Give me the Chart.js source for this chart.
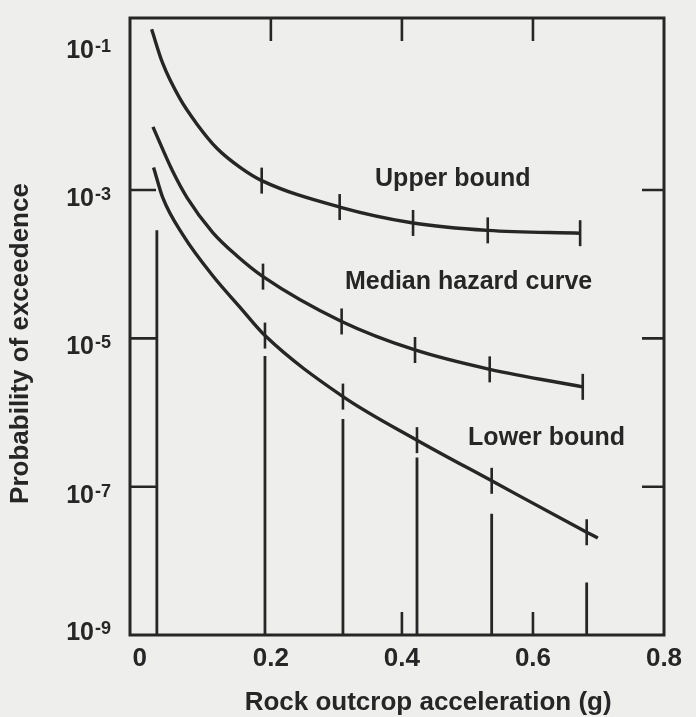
<!DOCTYPE html>
<html>
<head>
<meta charset="utf-8">
<script src="https://cdn.jsdelivr.net/npm/chart.js@4.4.1/dist/chart.umd.min.js"></script>
<style>
  html, body { margin: 0; padding: 0; background: #eeeeec; }
  #wrap { width: 696px; height: 717px; }
</style>
</head>
<body>
<div id="wrap"><canvas id="hazard" width="696" height="717"></canvas></div>
<script>
// axis ticks
const xTicks = [0, 0.2, 0.4, 0.6, 0.8];
const xTickLabels = ['0', '0.2', '0.4', '0.6', '0.8'];
const yTicks = [1e-1, 1e-3, 1e-5, 1e-7, 1e-9];
const yTickBase = '10';
const yTickExp = ['-1', '-3', '-5', '-7', '-9'];
const sideTicks = [1e-3, 1e-5, 1e-7];
const topTicks = [0.2, 0.4, 0.6];
const bottomTicks = [0.4, 0.6];
const xTitle = 'Rock outcrop acceleration (g)';
const yTitle = 'Probability of exceedence';

// upper bound curve (g, probability), 1 = error bar marker
const upperAcc  = [0.018, 0.035, 0.061, 0.087, 0.118, 0.153, 0.186, 0.305, 0.417, 0.531, 0.672];
const upperProb = [0.147, 0.0509, 0.0172, 7.8e-3, 3.63e-3, 2.02e-3, 1.34e-3, 5.9e-4, 3.6e-4, 2.86e-4, 2.62e-4];
const upperBars = [0, 0, 0, 0, 0, 0, 1, 1, 1, 1, 1];

// median hazard curve
const medianAcc  = [0.02, 0.05, 0.072, 0.111, 0.148, 0.188, 0.308, 0.42, 0.534, 0.676];
const medianProb = [7.1e-3, 1.8e-3, 7.9e-4, 2.69e-4, 1.3e-4, 6.8e-5, 1.69e-5, 6.97e-6, 3.82e-6, 2.22e-6];
const medianBars = [0, 0, 0, 0, 0, 1, 1, 1, 1, 1];

// lower bound curve
const lowerAcc  = [0.021, 0.035, 0.066, 0.111, 0.153, 0.191, 0.31, 0.423, 0.537, 0.682, 0.699];
const lowerProb = [2.02e-3, 7.9e-4, 2.47e-4, 7.05e-5, 2.62e-5, 1.09e-5, 1.64e-6, 4.24e-7, 1.2e-7, 2.43e-8, 2.03e-8];
const lowerBars = [0, 0, 0, 0, 0, 1, 1, 1, 1, 1, 0];

// vertical drop lines down to the axis
const dropAcc = [0.026, 0.191, 0.31, 0.423, 0.537, 0.682];
const dropTop = [2.86e-4, 5.8e-6, 8.2e-7, 2.47e-7, 4.3e-8, 5.1e-9];

// curve labels
const notes = ['Upper bound', 'Median hazard curve', 'Lower bound'];
const noteAcc = [0.359, 0.313, 0.501];
const noteProb = [1.15e-3, 4.57e-5, 3.63e-7];

const ink = '#262626';
const fontFam = '"Liberation Sans", "DejaVu Sans", Arial, sans-serif';
const yMin = 1e-9;
const yMax = Math.pow(10, -0.68);

Chart.defaults.font.family = fontFam;
Chart.defaults.font.weight = 'bold';
Chart.defaults.color = ink;

function curve(acc, prob, bars) {
    return {
        data: acc.map((a, i) => ({ x: a, y: prob[i] })),
        borderColor: ink,
        borderWidth: 3.4,
        cubicInterpolationMode: 'monotone',
        pointStyle: 'line',
        rotation: 90,
        pointRadius: bars.map(b => b ? 13 : 0),
        pointBorderWidth: 2.6,
        pointBorderColor: ink,
        fill: false
    };
}

const dropData = [];
dropAcc.forEach((a, i) => {
    dropData.push({ x: a, y: dropTop[i] }, { x: a, y: yMin }, { x: a, y: null });
});

// frame with inward tick marks, y labels with exponents, titles, curve names
const framePlugin = {
    id: 'frame',
    afterDatasetsDraw(chart) {
        const { ctx, chartArea: a, scales: { x, y } } = chart;
        ctx.save();
        ctx.strokeStyle = ink;
        ctx.lineWidth = 3;
        ctx.strokeRect(a.left, a.top, a.right - a.left, a.bottom - a.top);
        ctx.lineWidth = 2.6;
        ctx.beginPath();
        sideTicks.forEach(v => {
            const py = y.getPixelForValue(v);
            ctx.moveTo(a.left, py); ctx.lineTo(a.left + 26, py);
            ctx.moveTo(a.right, py); ctx.lineTo(a.right - 22, py);
        });
        topTicks.forEach(v => {
            const px = x.getPixelForValue(v);
            ctx.moveTo(px, a.top); ctx.lineTo(px, a.top + 23);
        });
        bottomTicks.forEach(v => {
            const px = x.getPixelForValue(v);
            ctx.moveTo(px, a.bottom); ctx.lineTo(px, a.bottom - 23);
        });
        ctx.stroke();

        ctx.fillStyle = ink;
        ctx.textBaseline = 'alphabetic';

        // y tick labels: 10 with raised exponent, hanging just below the tick
        const baseFont = 'bold 25px ' + fontFam;
        const expFont = 'bold 18px ' + fontFam;
        yTicks.forEach((v, i) => {
            const base = Math.min(y.getPixelForValue(v) + 16, a.bottom + 5);
            const right = a.left - 19;
            ctx.font = expFont;
            const ew = ctx.measureText(yTickExp[i]).width;
            ctx.textAlign = 'left';
            ctx.fillText(yTickExp[i], right - ew, base - 6);
            ctx.font = baseFont;
            ctx.textAlign = 'right';
            ctx.fillText(yTickBase, right - ew - 1, base);
        });

        // axis titles
        ctx.font = 'bold 26px ' + fontFam;
        ctx.textAlign = 'center';
        ctx.textBaseline = 'middle';
        ctx.fillText(xTitle, x.getPixelForValue(0.44), a.bottom + 68);
        ctx.save();
        ctx.translate(21, (a.top + a.bottom) / 2 + 17);
        ctx.rotate(-Math.PI / 2);
        ctx.fillText(yTitle, 0, 0);
        ctx.restore();

        // curve names
        ctx.font = 'bold 25px ' + fontFam;
        ctx.textAlign = 'left';
        ctx.textBaseline = 'alphabetic';
        notes.forEach((t, i) => {
            ctx.fillText(t, x.getPixelForValue(noteAcc[i]), y.getPixelForValue(noteProb[i]));
        });
        ctx.restore();
    }
};

new Chart(document.getElementById('hazard'), {
    type: 'line',
    data: {
        datasets: [
            curve(upperAcc, upperProb, upperBars),
            curve(medianAcc, medianProb, medianBars),
            curve(lowerAcc, lowerProb, lowerBars),
            {
                data: dropData,
                borderColor: ink,
                borderWidth: 2.8,
                pointRadius: 0,
                spanGaps: false,
                fill: false
            }
        ]
    },
    options: {
        responsive: false,
        animation: false,
        events: [],
        layout: { padding: { top: 18, right: 32, bottom: 0, left: 0 } },
        plugins: { legend: { display: false }, tooltip: { enabled: false } },
        scales: {
            x: {
                type: 'linear',
                min: -0.015,
                max: 0.8,
                afterBuildTicks: s => { s.ticks = xTicks.map(v => ({ value: v })); },
                afterFit: s => { s.height = 82; s.paddingLeft = 0; s.paddingRight = 0; },
                grid: { display: false, drawTicks: false },
                border: { display: false },
                ticks: {
                    padding: 8,
                    font: { size: 26 },
                    maxRotation: 0,
                    callback: (v, i) => xTickLabels[i]
                }
            },
            y: {
                type: 'logarithmic',
                min: yMin,
                max: yMax,
                afterBuildTicks: s => { s.ticks = yTicks.map(v => ({ value: v })); },
                afterFit: s => { s.width = 130; s.paddingTop = 0; s.paddingBottom = 0; },
                grid: { display: false, drawTicks: false },
                border: { display: false },
                ticks: {
                    padding: 20,
                    font: { size: 24 },
                    color: 'rgba(0,0,0,0)',
                    callback: (v, i) => yTickBase + yTickExp[i]
                }
            }
        }
    },
    plugins: [framePlugin]
});
</script>
</body>
</html>
